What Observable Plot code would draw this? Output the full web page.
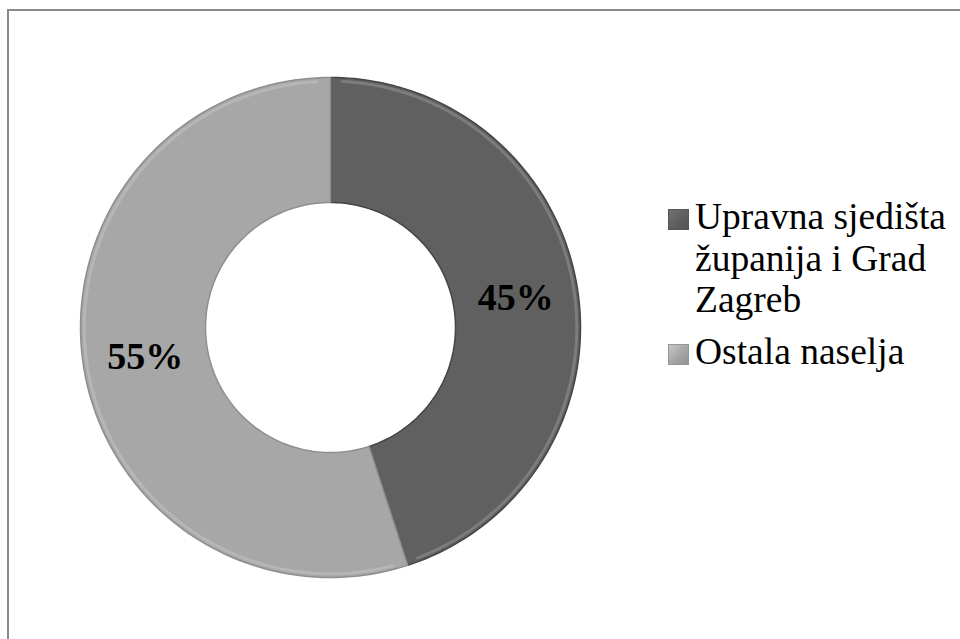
<!DOCTYPE html>
<html>
<head>
<meta charset="utf-8">
<script src="https://cdn.jsdelivr.net/npm/d3@7"></script>
<script src="https://cdn.jsdelivr.net/npm/@observablehq/plot@0.6"></script>
<style>
  html, body { margin: 0; padding: 0; background: #fff; overflow: hidden; }
  #wrap { position: relative; width: 960px; height: 639px; overflow: hidden; }
  #frame { position: absolute; left: 7px; top: 9px; width: 1000px; height: 700px; border: 2px solid #8a8a8a; box-sizing: border-box; }
  #chart { position: absolute; left: 0; top: 0; }
  #legend { position: absolute; left: 668px; top: 196px; font-family: 'Liberation Serif'; font-size: 37.5px; line-height: 41.5px; color: #000; }
  .item { display: flex; align-items: flex-start; margin-bottom: 10px; }
  .sw { width: 21px; height: 21px; margin-top: 13px; margin-right: 6px; box-sizing: border-box; flex: none; }
  .txt { width: 270px; font-family: 'Liberation Serif'; }
</style>
</head>
<body>
<div id="wrap">
  <div id="frame"></div>
  <div id="chart"></div>
  <div id="legend"></div>
</div>
<script>
const categories = ["Upravna sjedišta županija i Grad Zagreb", "Ostala naselja"];
const values = [45, 55];
const labels = ["45%", "55%"];
const colors = ["#606060", "#a7a7a7"];
const edgeColors = ["#454545", "#8e8e8e"];

const innerRatio = 0.5;
const total = d3.sum(values);

// donut slice outlines derived from the values (angles clockwise from top)
let acc = 0;
const slices = categories.map((cat, i) => {
  const a0 = acc / total * 2 * Math.PI;
  acc += values[i];
  const a1 = acc / total * 2 * Math.PI;
  const pts = [];
  const n = 120;
  for (let k = 0; k <= n; k++) {
    const a = a0 + (a1 - a0) * k / n;
    pts.push({cat, x: Math.sin(a), y: Math.cos(a)});
  }
  for (let k = n; k >= 0; k--) {
    const a = a0 + (a1 - a0) * k / n;
    pts.push({cat, x: innerRatio * Math.sin(a), y: innerRatio * Math.cos(a)});
  }
  pts.push(pts[0]);
  const mid = (a0 + a1) / 2;
  const r = (1 + innerRatio) / 2;
  return {cat, pts, label: labels[i], lx: r * Math.sin(mid), ly: r * Math.cos(mid), i};
});

const chart = Plot.plot({
  width: 960,
  height: 639,
  marginLeft: 80,
  marginRight: 380,
  marginTop: 77,
  marginBottom: 62,
  x: {domain: [-1, 1], axis: null},
  y: {domain: [-1, 1], axis: null},
  style: {background: "transparent", fontFamily: "'Liberation Serif'"},
  marks: [
    ...slices.map(s => Plot.line(s.pts, {
      x: "x", y: "y",
      fill: colors[s.i],
      stroke: edgeColors[s.i],
      strokeWidth: 1.5,
      curve: "linear"
    })),
    ...slices.map(s => Plot.line(s.pts.slice(2, 119), {
      x: d => d.x * 0.985, y: d => d.y * 0.985,
      stroke: "#ffffff",
      strokeOpacity: 0.18,
      strokeWidth: 3
    })),
    Plot.text(slices, {
      x: "lx", y: "ly", text: "label",
      fontFamily: "Liberation Serif",
      fontSize: 38, fontWeight: "bold", fill: "#000"
    })
  ]
});
document.getElementById("chart").appendChild(chart);

const legend = d3.select("#legend");
categories.forEach((c, i) => {
  const item = legend.append("div").attr("class", "item");
  item.append("div").attr("class", "sw")
    .style("background", `linear-gradient(135deg, ${d3.color(colors[i]).brighter(0.5)}, ${colors[i]} 50%, ${d3.color(colors[i]).darker(0.4)})`)
    .style("border", `1px solid ${d3.color(colors[i]).darker(0.3)}`);
  item.append("div").attr("class", "txt").text(c);
});
</script>
</body>
</html>
